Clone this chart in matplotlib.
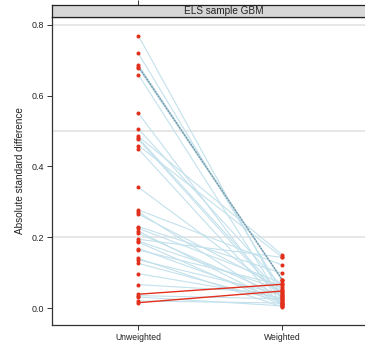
import matplotlib
matplotlib.use("Agg")
from matplotlib import pyplot as plt
import numpy as np

plt.rcParams['font.family'] = ['Liberation Sans', 'DejaVu Sans']

groups = ["Unweighted", "Weighted"]
panel_title = "ELS sample GBM"
ref_lines = [0.2, 0.5, 0.8]
y_ticks = [0.0, 0.2, 0.4, 0.6, 0.8]

# absolute standardized differences, one entry per covariate
unweighted = [0.769, 0.719, 0.686, 0.682, 0.678, 0.659, 0.550, 0.506, 0.485,
              0.480, 0.476, 0.459, 0.449, 0.341, 0.277, 0.271, 0.265, 0.230,
              0.225, 0.217, 0.211, 0.194, 0.189, 0.186, 0.168, 0.164, 0.140,
              0.136, 0.126, 0.097, 0.066, 0.039, 0.035, 0.031, 0.020, 0.015]
weighted = [0.030, 0.045, 0.079, 0.079, 0.078, 0.020, 0.010, 0.060, 0.150,
            0.035, 0.025, 0.143, 0.005, 0.040, 0.121, 0.015, 0.055, 0.098,
            0.070, 0.012, 0.033, 0.143, 0.050, 0.008, 0.022, 0.064, 0.003,
            0.038, 0.018, 0.028, 0.042, 0.067, 0.026, 0.006, 0.014, 0.048]

W, H = 365, 349
fig = plt.figure(figsize=(W / 100, H / 100), dpi=100)

x0, x1 = 52, 395
ytop, ybot, ystrip = 17, 325, 5
ax = fig.add_axes([x0 / W, 1 - ybot / H, (x1 - x0) / W, (ybot - ytop) / H])
strip = fig.add_axes([x0 / W, 1 - ytop / H, (x1 - x0) / W, (ytop - ystrip) / H])

xpos = np.array([1, 2])
for yy in ref_lines:
    ax.axhline(yy, color="#e3e3e3", lw=1.2, zorder=0)

for u, w in zip(unweighted, weighted):
    col = "#e3301c" if w > u else "#c3e1ec"
    lw = 1.0 if w > u else 0.8
    z = 3 if w > u else 1
    ax.plot(xpos, [u, w], color=col, lw=lw, zorder=z)
# the three nearly identical covariates overlap into a darker line
ax.plot(xpos, [unweighted[3], weighted[3]], color="#7898a6", lw=1.0, ls=(0, (1.5, 0.6)), zorder=2)

ax.plot(np.full(len(unweighted), xpos[0]), unweighted, "o", color="#e3301c", ms=2.9, mew=0, zorder=4)
ax.plot(np.full(len(weighted), xpos[1]), weighted, "o", color="#e3301c", ms=2.9, mew=0, zorder=4)

ax.set_xlim(0.4, 0.4 + (x1 - x0) / 144)
ax.set_ylim(-0.048, 0.822)
ax.set_xticks(xpos)
ax.set_xticklabels(groups, fontsize=6.2)
ax.set_yticks(y_ticks)
ax.set_yticklabels(["%.1f" % t for t in y_ticks], fontsize=6.4)
ax.tick_params(length=3.5, width=0.7, pad=2, color="#333333", labelcolor="#222222")
ax.set_ylabel("Absolute standard difference", fontsize=7.2, color="#222222", labelpad=5)
for s in ax.spines.values():
    s.set_linewidth(0.9)
    s.set_color("#333333")

strip.set_facecolor("#d6d6d6")
strip.set_xlim(ax.get_xlim())
strip.set_ylim(0, 1)
strip.set_yticks([])
strip.set_xticks([1])
strip.set_xticklabels([])
strip.tick_params(axis="x", top=True, bottom=False, length=3.5, width=0.7, color="#333333")
for s in strip.spines.values():
    s.set_linewidth(0.9)
    s.set_color("#222222")
strip.text(223.5 / W, 1 - 11 / H, panel_title, transform=fig.transFigure,
           ha="center", va="center", fontsize=7.2, color="#222222")

fig.savefig("out.png", dpi=100)
